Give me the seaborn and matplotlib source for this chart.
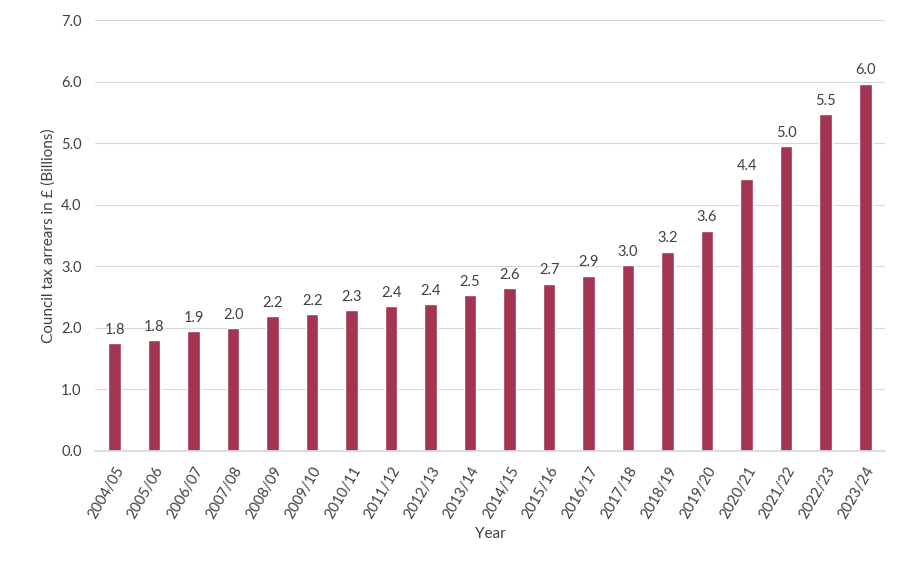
import matplotlib
matplotlib.use('Agg')
import matplotlib.pyplot as plt
import seaborn as sns
import pandas as pd

years = ['2004/05', '2005/06', '2006/07', '2007/08', '2008/09', '2009/10', '2010/11',
         '2011/12', '2012/13', '2013/14', '2014/15', '2015/16', '2016/17', '2017/18',
         '2018/19', '2019/20', '2020/21', '2021/22', '2022/23', '2023/24']
arrears = [1.75, 1.80, 1.94, 1.99, 2.19, 2.23, 2.29, 2.36, 2.39, 2.53, 2.65, 2.72,
           2.85, 3.02, 3.24, 3.58, 4.42, 4.96, 5.47, 5.97]

df = pd.DataFrame({'Year': years, 'Arrears': arrears})

sns.set_theme(style='white')
plt.rcParams['font.family'] = ['Lato', 'DejaVu Sans']

fig, ax = plt.subplots(figsize=(9.03, 5.78), dpi=100)
fig.subplots_adjust(left=0.105, right=0.98, top=0.965, bottom=0.22)

sns.barplot(data=df, x='Year', y='Arrears', color='#B5234A', width=0.32, ax=ax)

for i, v in enumerate(arrears):
    ax.text(i, v + 0.1, f'{v:.1f}', ha='center', va='bottom', fontsize=10.5, color='#404040')

ax.set_ylim(0, 7)
ax.set_yticks([i for i in range(8)])
ax.set_yticklabels([f'{i:.1f}' for i in range(8)], fontsize=10.5, color='#404040')
ax.yaxis.grid(True, color='#D9D9D9', linewidth=0.8)
ax.set_axisbelow(True)
ax.tick_params(axis='x', labelrotation=60, labelsize=10.5, colors='#404040')
for lab in ax.get_xticklabels():
    lab.set_ha('right')
    lab.set_rotation_mode('anchor')
for s in ['top', 'right', 'left']:
    ax.spines[s].set_visible(False)
ax.spines['bottom'].set_color('#D9D9D9')
ax.set_xlabel('Year', fontsize=11, color='#404040')
ax.set_ylabel('Council tax arrears in £ (Billions)', fontsize=11, color='#404040')

fig.savefig('out.png', dpi=100)
